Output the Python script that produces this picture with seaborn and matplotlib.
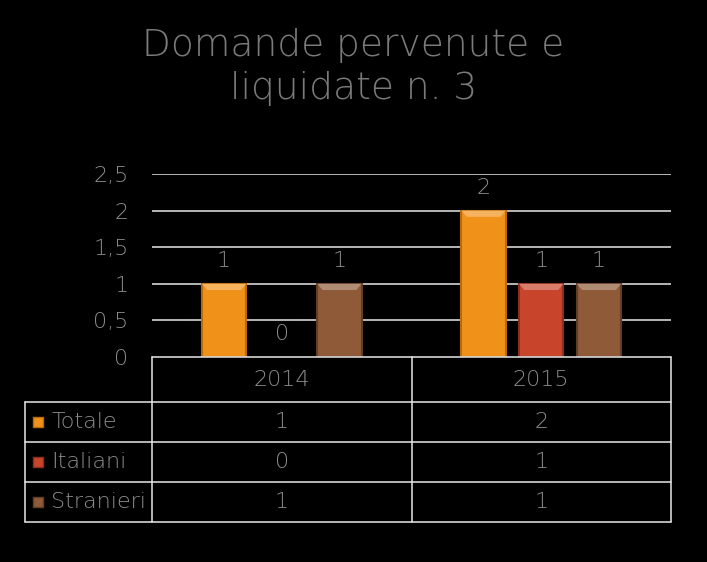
import matplotlib
matplotlib.use("Agg")
import matplotlib.pyplot as plt
import seaborn as sns
import pandas as pd
from matplotlib.patches import Polygon
from matplotlib.colors import to_rgb

# ---- data ----
years = ["2014", "2015"]
series = ["Totale", "Italiani", "Stranieri"]
totale = [1, 2]
italiani = [0, 1]
stranieri = [1, 1]
yticks = [0, 0.5, 1, 1.5, 2, 2.5]
title = "Domande pervenute e\nliquidate n. 3"

colors = ["#F0921A", "#C8452C", "#8E5A38"]
edge_colors = ["#B86A0C", "#8E2E1C", "#633E25"]
text_gray = "#8C8C8C"
grid_col = "#E8E8E8"

df = pd.DataFrame({
    "Anno": years * 3,
    "Serie": [s for s in series for _ in years],
    "Valore": totale + italiani + stranieri,
})

sns.set_theme(style="white")
plt.rcParams["font.family"] = ["DejaVu Sans"]
plt.rcParams["font.weight"] = "light"

W, H = 707, 562
fig = plt.figure(figsize=(W / 100, H / 100), dpi=100, facecolor="black")
ax_l, ax_r, ax_b, ax_t = 152, 671, 357, 174
ax = fig.add_axes([ax_l / W, (H - ax_b) / H, (ax_r - ax_l) / W, (ax_b - ax_t) / H])
ax.set_facecolor("black")

sns.barplot(data=df, x="Anno", y="Valore", hue="Serie", hue_order=series,
            order=years, palette=colors, width=0.667, gap=0.23, saturation=1,
            legend=False, ax=ax, zorder=3)


def lighten(c, f):
    r, g, b = to_rgb(c)
    return (r + (1 - r) * f, g + (1 - g) * f, b + (1 - b) * f)


for cont, col, ec in zip(ax.containers, colors, edge_colors):
    for p in cont:
        h = p.get_height()
        if h == 0:
            p.set_linewidth(0)
            continue
        p.set_edgecolor(ec)
        p.set_linewidth(1.5)
        x, w = p.get_x(), p.get_width()
        d = w * 0.12
        bh = 0.085
        ax.add_patch(Polygon([(x, h), (x + w, h), (x + w - d, h - bh), (x + d, h - bh)],
                             closed=True, facecolor=lighten(col, 0.3),
                             edgecolor="none", zorder=4))
    ax.bar_label(cont, fmt="%g", padding=9, color=text_gray, fontsize=16)

ax.set_ylim(0, 2.5)
ax.set_xlim(-0.5, 1.5)
ax.set_yticks(yticks)
ax.set_yticklabels([f"{v:g}".replace(".", ",") for v in yticks])
ax.tick_params(axis="y", colors=text_gray, labelsize=16, length=0, pad=17)
ax.set_xticks([])
ax.set_xlabel("")
ax.set_ylabel("")
for s in ax.spines.values():
    s.set_visible(False)
for v in yticks[1:]:
    ax.axhline(v, color=grid_col, lw=1.1, zorder=1)

# ---- data table (x in category units, y in axes fraction) ----
tr = ax.get_xaxis_transform()
bh_px = ax_b - ax_t
head_h, row_h = 45 / bh_px, 40 / bh_px
ys = [0, -head_h] + [-head_h - row_h * k for k in range(1, 4)]
x_lab = -0.5 - (ax_l - 25) / (ax_r - ax_l) * 2
col_edges = [-0.5, 0.5, 1.5]
lw = 1.1
line_kw = dict(color=grid_col, lw=lw, transform=tr, clip_on=False, zorder=5)
ax.plot([col_edges[0], col_edges[-1]], [ys[0], ys[0]], **line_kw)
for yy in ys[1:]:
    ax.plot([x_lab, col_edges[-1]], [yy, yy], **line_kw)
ax.plot([x_lab, x_lab], [ys[1], ys[-1]], **line_kw)
for xx in col_edges:
    ax.plot([xx, xx], [ys[0], ys[-1]], **line_kw)

txt_kw = dict(color=text_gray, fontsize=16, transform=tr, clip_on=False,
              va="center")
for j, y in enumerate(years):
    ax.text(j, (ys[0] + ys[1]) / 2, y, ha="center", **txt_kw)
rows = [totale, italiani, stranieri]
lab_x = -0.5 - (ax_l - 51) / (ax_r - ax_l) * 2
key_x = -0.5 - (ax_l - 38) / (ax_r - ax_l) * 2
for i, (name, vals, col, ec) in enumerate(zip(series, rows, colors, edge_colors)):
    yc = (ys[i + 1] + ys[i + 2]) / 2
    ax.text(lab_x, yc, name, ha="left", **txt_kw)
    ax.scatter([key_x], [yc], marker="s", s=45, color=col, edgecolors=ec,
               linewidths=1, transform=tr, clip_on=False, zorder=6)
    for j, v in enumerate(vals):
        ax.text(j, yc, f"{v:g}", ha="center", **txt_kw)

fig.text(0.5, 1 - 67 / H, title, ha="center", va="center", color="#7A7A7A",
         fontsize=27, fontweight="light", linespacing=1.3)

fig.savefig("out.png", dpi=100, facecolor="black")
